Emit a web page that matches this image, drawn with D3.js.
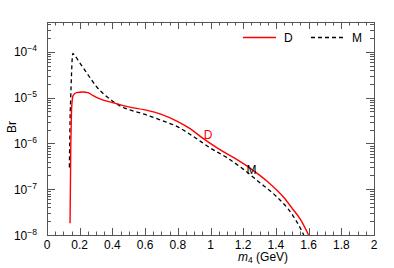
<!DOCTYPE html>
<html>
<head>
<meta charset="utf-8">
<script src="https://cdn.jsdelivr.net/npm/d3@7"></script>
<style>
  body { margin: 0; background: #fff; }
  svg { display: block; }
  text { font-family: "Liberation Sans", Arial, sans-serif; font-size: 12px; }
</style>
</head>
<body>
<script>
// values: m4 in GeV, Br
const dMass = [0.141, 0.143, 0.145, 0.148, 0.151, 0.16, 0.18, 0.22, 0.25, 0.28, 0.32, 0.40, 0.50, 0.60, 0.70, 0.80, 0.875, 0.95, 1.05, 1.15, 1.25, 1.35, 1.45, 1.50, 1.55, 1.60];
const dBr = [1.8e-8, 1e-7, 6.3e-7, 2.5e-6, 6.3e-6, 1.12e-5, 1.29e-5, 1.33e-5, 1.29e-5, 1.12e-5, 9.5e-6, 7.8e-6, 6.3e-6, 5.4e-6, 4.3e-6, 3.0e-6, 2.1e-6, 1.32e-6, 7.6e-7, 4.7e-7, 2.75e-7, 1.45e-7, 6.5e-8, 3.8e-8, 2.2e-8, 1e-8];
const mMass = [0.137, 0.139, 0.141, 0.145, 0.150, 0.155, 0.158, 0.17, 0.20, 0.25, 0.30, 0.35, 0.40, 0.45, 0.50, 0.60, 0.70, 0.80, 0.90, 1.00, 1.10, 1.20, 1.30, 1.40, 1.50, 1.55, 1.57];
const mBr = [3e-7, 1e-6, 3.2e-6, 1e-5, 3.2e-5, 7.9e-5, 9.3e-5, 8.3e-5, 5.8e-5, 3.2e-5, 1.78e-5, 1.17e-5, 8.5e-6, 6.5e-6, 5.5e-6, 4.3e-6, 3.2e-6, 2.3e-6, 1.38e-6, 7.9e-7, 4.9e-7, 2.75e-7, 1.41e-7, 7.1e-8, 2.8e-8, 1.4e-8, 1e-8];
const xTicks = [0, 0.2, 0.4, 0.6, 0.8, 1, 1.2, 1.4, 1.6, 1.8, 2];
const yExponents = [-8, -7, -6, -5, -4];

const width = 394;
const height = 268;
const margin = { top: 22, right: 20, bottom: 33, left: 47 };

const svg = d3.select("body")
    .append("svg")
    .attr("width", width)
    .attr("height", height)
    .attr("viewBox", `0 0 ${width} ${height}`);

const xScale = d3.scaleLinear()
    .domain([0, 2])
    .range([margin.left, width - margin.right]);

const yScale = d3.scaleLog()
    .domain([1e-8, 4.5e-4])
    .range([height - margin.bottom, margin.top]);

const plotLeft = margin.left, plotRight = width - margin.right;
const plotTop = margin.top, plotBottom = height - margin.bottom;
const axisColor = "#555";

// minor / major ticks, all pointing inwards on every side
const xMinor = d3.range(0, 2.001, 0.05);
const yMinor = [];
for (let e = -8; e <= -4; e++) {
    for (let k = 1; k <= 9; k++) {
        const v = k * Math.pow(10, e);
        if (v <= 4.5e-4) yMinor.push({ v: v, major: k === 1 });
    }
}

const ticks = svg.append("g")
    .attr("stroke", axisColor)
    .attr("stroke-width", 1);

xMinor.forEach(v => {
    const major = Math.abs(v * 5 - Math.round(v * 5)) < 1e-6;
    const len = major ? 7 : 3.5;
    const x = Math.round(xScale(v)) + 0.5;
    ticks.append("line").attr("x1", x).attr("x2", x)
        .attr("y1", plotBottom).attr("y2", plotBottom - len);
    ticks.append("line").attr("x1", x).attr("x2", x)
        .attr("y1", plotTop).attr("y2", plotTop + len);
});

yMinor.forEach(d => {
    const len = d.major ? 8 : 4;
    const y = Math.round(yScale(d.v)) + 0.5;
    ticks.append("line").attr("x1", plotLeft).attr("x2", plotLeft + len)
        .attr("y1", y).attr("y2", y);
    ticks.append("line").attr("x1", plotRight).attr("x2", plotRight - len)
        .attr("y1", y).attr("y2", y);
});

svg.append("rect")
    .attr("x", plotLeft + 0.5)
    .attr("y", plotTop + 0.5)
    .attr("width", plotRight - plotLeft)
    .attr("height", plotBottom - plotTop)
    .attr("fill", "none")
    .attr("stroke", axisColor)
    .attr("stroke-width", 1);

// tick labels
svg.selectAll(".xlabel")
    .data(xTicks)
    .enter()
    .append("text")
    .attr("class", "xlabel")
    .attr("x", d => xScale(d))
    .attr("y", plotBottom + 13.5)
    .attr("text-anchor", "middle")
    .text(d => d3.format("")(d));

const yLabels = svg.selectAll(".ylabel")
    .data(yExponents)
    .enter()
    .append("text")
    .attr("class", "ylabel")
    .attr("x", plotLeft - 10)
    .attr("y", d => yScale(Math.pow(10, d)) + 4.5)
    .attr("text-anchor", "end");
yLabels.append("tspan").text("10");
yLabels.append("tspan")
    .attr("dy", -5)
    .style("font-size", "8.5px")
    .text(d => "\u2212" + Math.abs(d));

// axis titles
svg.append("text")
    .attr("transform", `translate(16, 127) rotate(-90)`)
    .attr("text-anchor", "middle")
    .text("Br");

const xTitle = svg.append("text")
    .attr("x", 238)
    .attr("y", 261);
xTitle.append("tspan").style("font-style", "italic").text("m");
xTitle.append("tspan").attr("dy", 2).style("font-size", "8.5px").text("4");
xTitle.append("tspan").attr("dy", -2).text(" (GeV)");

// curves
const line = d3.line()
    .x(d => xScale(d[0]))
    .y(d => yScale(d[1]))
    .curve(d3.curveMonotoneX);

svg.append("clipPath").attr("id", "plot-clip")
    .append("rect")
    .attr("x", plotLeft).attr("y", plotTop)
    .attr("width", plotRight - plotLeft).attr("height", plotBottom - plotTop);

svg.append("path")
    .datum(d3.zip(mMass, mBr))
    .attr("d", line)
    .attr("fill", "none")
    .attr("stroke", "#000")
    .attr("stroke-width", 1.3)
    .attr("stroke-dasharray", "4,3")
    .attr("clip-path", "url(#plot-clip)");

svg.append("path")
    .datum(d3.zip(dMass, dBr))
    .attr("d", line)
    .attr("fill", "none")
    .attr("stroke", "#f00")
    .attr("stroke-width", 1.4)
    .attr("clip-path", "url(#plot-clip)");

// in-plot labels
svg.append("text")
    .attr("x", xScale(0.985))
    .attr("y", yScale(Math.pow(10, -5.91)))
    .attr("text-anchor", "middle")
    .attr("fill", "#f00")
    .text("D");

svg.append("text")
    .attr("x", xScale(1.25))
    .attr("y", yScale(Math.pow(10, -6.67)))
    .attr("text-anchor", "middle")
    .attr("fill", "#000")
    .text("M");

// legend
const legendItems = [
    { name: "D", color: "#f00", dash: null, x: 243 },
    { name: "M", color: "#000", dash: "4,3", x: 311 }
];

legendItems.forEach(d => {
    svg.append("line")
        .attr("x1", d.x).attr("x2", d.x + 33)
        .attr("y1", 37.5).attr("y2", 37.5)
        .attr("stroke", d.color)
        .attr("stroke-width", 1.3)
        .attr("stroke-dasharray", d.dash);
    svg.append("text")
        .attr("x", d.x + 41)
        .attr("y", 42)
        .text(d.name);
});
</script>
</body>
</html>
